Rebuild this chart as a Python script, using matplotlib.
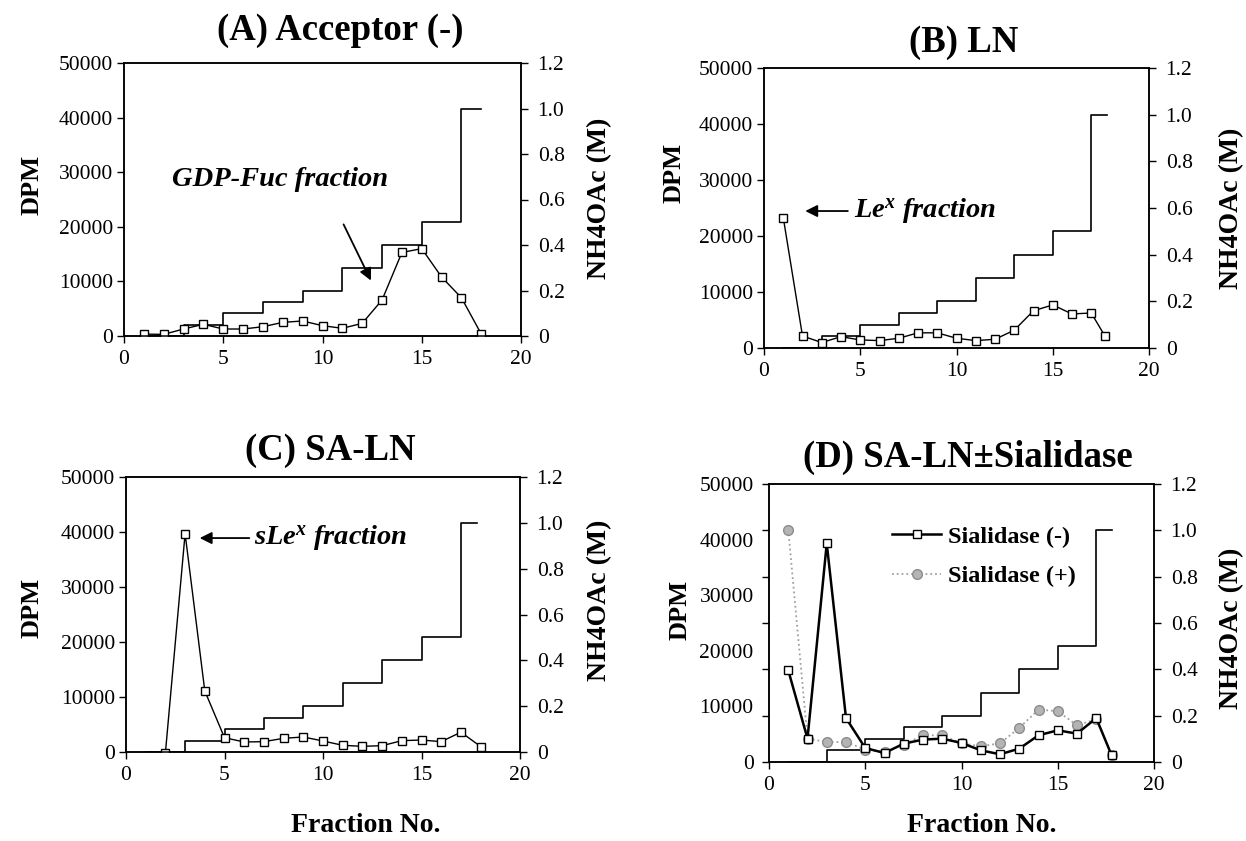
import numpy as np
import matplotlib
matplotlib.use("Agg")
import matplotlib.pyplot as plt

plt.rcParams['font.family'] = 'Liberation Serif'
plt.rcParams['mathtext.fontset'] = 'custom'
plt.rcParams['mathtext.it'] = 'Liberation Serif:italic:bold'
plt.rcParams['mathtext.rm'] = 'Liberation Serif:bold'

# fracciones y gradiente de NH4OAc (igual en los 4 paneles)
fractions = [1, 2, 3, 4, 5, 6, 7, 8, 9, 10, 11, 12, 13, 14, 15, 16, 17, 18]
fractions_end = [1, 2, 3, 4, 5, 6, 7, 8, 9, 10, 11, 12, 13, 14, 15, 16, 17, 17.8]
salt_M = [0, 0, 0.05, 0.05, 0.1, 0.1, 0.15, 0.15, 0.2, 0.2, 0.3, 0.3,
          0.4, 0.4, 0.5, 0.5, 1.0, 1.0]

# DPM
dpm_a = [350, 300, 1280, 2140, 1280, 1280, 1700, 2500, 2750, 1890, 1410, 2320,
         6590, 15300, 16000, 10800, 7000, 350]
dpm_b = [23300, 2140, 980, 2020, 1440, 1320, 1740, 2710, 2710, 1740, 1320, 1560,
         3180, 6650, 7690, 6080, 6250, 2200]
dpm_c = [-150, 39700, 11100, 2600, 1820, 1880, 2490, 2730, 2000, 1220, 1030,
         1150, 2060, 2180, 1880, 3600, 1000]          # empieza en la fraccion 2
dpm_d_minus = [16500, 4200, 39300, 7900, 2520, 1620, 3300, 4030, 4200, 3420,
               2100, 1390, 2400, 4800, 5700, 5100, 7900, 1200]
dpm_d_plus = [41800, 4200, 3600, 3600, 2230, 1800, 3130, 4800, 4800, 3360,
              2830, 3360, 6130, 9430, 9130, 6600, 7700, 1200]

titles = ['(A) Acceptor (-)', '(B) LN', '(C) SA-LN', '(D) SA-LN\u00b1Sialidase']

W, H = 1246, 841
fig = plt.figure(figsize=(W / 100, H / 100), dpi=100)
TICK = 15.5


def make_axes(left, top, right, bottom):
    ax = fig.add_axes([left / W, 1 - bottom / H, (right - left) / W, (bottom - top) / H])
    ax2 = ax.twinx()
    ax.set_zorder(ax2.get_zorder() + 1)
    ax.patch.set_visible(False)
    ax.set_xlim(0, 20)
    ax.set_ylim(0, 50000)
    ax.set_xticks([0, 5, 10, 15, 20])
    ax.set_yticks(range(0, 50001, 10000))
    ax2.set_ylim(0, 1.2)
    ax2.set_yticks([0, 0.2, 0.4, 0.6, 0.8, 1.0, 1.2])
    ax2.set_yticklabels(['0', '0.2', '0.4', '0.6', '0.8', '1.0', '1.2'])
    ax.tick_params(axis='x', direction='out', length=5, width=1, labelsize=TICK, pad=5)
    ax.tick_params(axis='y', direction='out', length=5, width=1, labelsize=TICK, pad=3)
    ax2.tick_params(axis='y', direction='out', length=5, width=1, labelsize=TICK, pad=7)
    for a in (ax, ax2):
        for s in a.spines.values():
            s.set_linewidth(1.1)
    return ax, ax2


def labels(xl, yl, xr, yr):
    fig.text(xl / W, 1 - yl / H, 'DPM', rotation=90, ha='center', va='center',
             fontsize=19, fontweight='bold')
    fig.text(xr / W, 1 - yr / H, 'NH4OAc (M)', rotation=90, ha='center', va='center',
             fontsize=20, fontweight='bold')


def title(x, y, s):
    fig.text(x / W, 1 - y / H, s, ha='center', va='center', fontsize=26.5, fontweight='bold')


sq = dict(marker='s', markersize=6, markerfacecolor='white', markeredgecolor='black',
          markeredgewidth=1, color='black', linewidth=1)
arrow = dict(arrowstyle='-|>', color='black', lw=1.3, mutation_scale=18)
note = dict(fontsize=20.5, fontweight='bold', fontstyle='italic', va='center', ha='left')

# (A)
ax, ax2 = make_axes(124, 63, 521, 336)
ax2.step(fractions, salt_M, where='post', color='black', lw=1.2)
ax.plot(fractions, dpm_a, **sq)
ax.annotate('', xy=(12.5, 9700), xytext=(11.0, 20900), arrowprops=arrow)
ax.text(2.4, 28600, 'GDP-Fuc fraction', **note)
title(340, 30, titles[0])
labels(32, 185, 600, 198)

# (B)
ax, ax2 = make_axes(764, 68, 1149, 348)
ax2.step(fractions_end, salt_M, where='post', color='black', lw=1.2)
ax.plot(fractions[:-1] + [17.7], dpm_b, **sq)
ax.annotate('', xy=(2.0, 24460), xytext=(4.5, 24460), arrowprops=arrow)
ax.text(4.68, 24460, r'Le$^{x}$ fraction', **note)
title(964, 43, titles[1])
labels(674, 173, 1232, 208)

# (C)
ax, ax2 = make_axes(126, 477, 520, 752)
ax2.step(fractions_end, salt_M, where='post', color='black', lw=1.2)
ax.plot(fractions[1:], dpm_c, **sq)
ax.annotate('', xy=(3.6, 38900), xytext=(6.4, 38900), arrowprops=arrow)
ax.text(6.5, 38900, r'sLe$^{x}$ fraction', **note)
title(330, 450, titles[2])
labels(32, 608, 600, 600)
fig.text(366 / W, 1 - 826 / H, 'Fraction No.', ha='center', va='center', fontsize=20, fontweight='bold')

# (D)
ax, ax2 = make_axes(769, 484, 1154, 762)
ax2.step(fractions_end, salt_M, where='post', color='black', lw=1.2)
ax.plot(fractions_end, dpm_d_plus, marker='o', markersize=7, markerfacecolor='#b4b4b4',
        markeredgecolor='#8c8c8c', markeredgewidth=1, color='#a0a0a0', linewidth=1.3,
        linestyle=':', label='Sialidase (+)')
ax.plot(fractions_end, dpm_d_minus, marker='s', markersize=6, markerfacecolor='white',
        markeredgecolor='black', markeredgewidth=1, color='black', linewidth=1.8,
        label='Sialidase (-)')
# en este panel las marcas del eje no coinciden con las etiquetas
ax.yaxis.remove_overlapping_locs = False
ax.set_yticks(np.linspace(0, 50000, 7))
ax.set_yticklabels([])
ax.set_yticks(range(0, 50001, 10000), minor=True)
ax.set_yticklabels([str(v) for v in range(0, 50001, 10000)], minor=True)
ax.tick_params(axis='y', which='minor', length=0, labelsize=TICK, pad=11)
h, l = ax.get_legend_handles_labels()
ax.legend(h[::-1], l[::-1], loc='upper left', bbox_to_anchor=(0.32, 0.85), frameon=False,
          prop={'weight': 'bold', 'size': 17.5}, handlelength=2.0, handletextpad=0.3,
          borderpad=0, borderaxespad=0, labelspacing=0.72)
title(968, 457, titles[3])
labels(680, 610, 1232, 628)
fig.text(982 / W, 1 - 826 / H, 'Fraction No.', ha='center', va='center', fontsize=20, fontweight='bold')

fig.savefig('out.png', dpi=100)
